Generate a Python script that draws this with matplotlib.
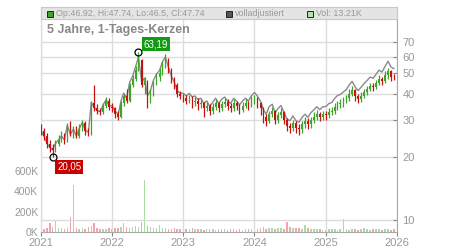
import numpy as np
import pandas as pd
import matplotlib
matplotlib.use("Agg")
import matplotlib.pyplot as plt
import matplotlib.dates as mdates
from matplotlib.patches import Rectangle

plt.rcParams['font.family'] = ['Liberation Sans', 'DejaVu Sans']

# ---- data (half-monthly candles) ----
dates = pd.to_datetime([f"{y}-{m:02d}-{d:02d}" for y in range(2021, 2026)
                        for m in range(1, 13) for d in (1, 16)])

close = [26.5, 25, 23, 22, 21.5, 23, 24, 25, 24, 28, 25.5, 27, 25, 27, 29, 26.5, 26, 36, 34, 33, 32.5, 35, 37, 34.5,
         34, 32, 31, 36, 39, 37, 44, 47, 52, 58, 44, 46, 38, 40, 45, 48, 50, 55, 58, 52, 47, 44, 40, 39,
         38, 37, 38, 36.5, 37, 35.5, 36, 34, 35, 33, 34.5, 36, 34, 35.5, 36.5, 35, 34, 36, 35, 33.5, 35, 36, 35, 37,
         37.5, 36, 34, 31, 29.5, 32, 33, 30, 31.5, 32.5, 30, 28, 27.5, 29, 27.5, 27, 28.5, 29.5, 28.5, 30, 31, 32, 31, 32,
         31.5, 32.5, 33, 34.5, 35.5, 36, 37, 38, 40, 41.5, 39, 37.5, 39, 40.5, 42, 43.5, 43, 45, 47, 46, 49, 51, 48, 47.74]
first_open = 27
high = [28.5, 27.5, 26, 24, 23, 24, 25.5, 26.5, 26, 29, 29.5, 28, 28, 28.5, 30, 29.5, 27.5, 37, 44, 35.5, 34, 36, 38.5, 38,
        36, 34.5, 33, 37, 40, 42, 45, 49, 54, 63.19, 58.5, 48, 46.5, 42, 46, 50, 53, 57, 62, 59, 53, 48, 45, 41,
        40, 39.5, 39.5, 39, 38.5, 38, 37.5, 36.5, 36.5, 35.5, 36, 37.5, 36.5, 37, 38, 37.5, 36, 37.5, 37, 35.5, 36.5, 37.5, 37, 39,
        39.5, 38.5, 36.5, 34.5, 32, 33, 34.5, 33.5, 32.5, 34, 33, 30.5, 29, 30, 29.5, 28.5, 29.5, 31, 30.5, 31, 32.5, 33.5, 32.5, 33,
        33, 34, 34.5, 36, 37, 37.5, 38.5, 39.5, 42, 43.5, 42, 40, 40.5, 42, 43.5, 45, 45, 46.5, 49, 48, 51, 53, 52, 49.5]
low = [25.5, 24, 22, 21, 20.05, 21, 22.5, 23.5, 23, 23.5, 25, 24.5, 24.5, 24.5, 26.5, 25.5, 25, 25.5, 33, 32, 31.5, 32, 34, 33.5,
       32.5, 30.5, 30, 30.5, 35, 36, 36.5, 43, 46, 51, 43, 40, 34, 36, 39, 44, 46, 49, 53, 50, 45, 42, 38.5, 37.5,
       36.5, 35.5, 36, 34, 35, 33.5, 34, 31, 33, 31.5, 32, 33.5, 32.5, 33, 34.5, 33.5, 32.5, 33, 33.5, 32, 32.5, 34, 33.5, 34.5,
       35.5, 34, 31.5, 29, 28, 29, 31, 28.5, 29, 30.5, 28.5, 26.5, 26, 26.5, 26, 25.5, 26, 27.5, 27, 27.5, 29, 30, 29.5, 30,
       30, 30.5, 31.5, 32, 33.5, 34, 34.5, 36, 37, 39, 37, 36, 36.5, 38, 39.5, 41, 41, 42, 44, 44, 45, 47, 46, 46.5]
adjusted = [26.6, 25.1, 23.1, 22.1, 21.6, 23.1, 24.1, 25.1, 24.1, 28.2, 25.6, 27.1, 25.1, 27.2, 29.2, 26.7, 26.2, 36.3, 34.3, 33.3, 32.8, 35.4, 37.4, 34.9,
            35.0, 33.0, 31.9, 37.1, 40.2, 38.1, 45.3, 48.4, 53.6, 59.7, 45.3, 47.4, 39.1, 41.2, 46.4, 49.4, 51.5, 56.7, 59.7, 53.6, 48.4, 45.3, 41.2, 40.2,
            40.1, 39.0, 40.1, 38.5, 39.0, 37.5, 38.0, 35.9, 36.9, 34.8, 36.4, 38.0, 35.9, 37.5, 38.5, 36.9, 35.9, 38.0, 36.9, 35.3, 36.9, 38.0, 36.9, 39.0,
            40.5, 38.9, 36.7, 33.5, 31.9, 34.6, 35.6, 32.4, 34.0, 35.1, 32.4, 30.2, 29.7, 31.3, 29.7, 29.2, 30.8, 31.9, 30.8, 32.4, 33.5, 34.6, 33.5, 34.6,
            34.7, 35.8, 36.3, 38.0, 39.1, 39.6, 40.7, 41.8, 44.0, 45.7, 42.9, 41.3, 42.9, 44.6, 46.2, 47.9, 47.3, 49.5, 51.7, 50.6, 53.9, 57.0, 53.5, 52.5]
volume_k = [35, 30, 40, 90, 45, 120, 40, 35, 30, 40, 150, 460, 40, 30, 35, 30, 45, 60, 90, 35, 30, 25, 30, 35,
            30, 35, 40, 45, 90, 50, 40, 45, 60, 50, 100, 510, 55, 45, 40, 35, 70, 40, 35, 30, 30, 35, 25, 30,
            70, 30, 25, 35, 30, 25, 30, 20, 25, 30, 25, 20, 25, 30, 25, 20, 25, 30, 20, 25, 20, 25, 30, 25,
            25, 30, 35, 45, 30, 40, 35, 30, 40, 35, 30, 100, 45, 40, 40, 35, 30, 70, 35, 30, 25, 30, 25, 20,
            20, 25, 30, 25, 20, 25, 130, 25, 20, 25, 30, 20, 25, 35, 25, 20, 30, 25, 30, 20, 25, 30, 20, 25]

year_ticks = ["2021", "2022", "2023", "2024", "2025", "2026"]
price_ticks = [10, 20, 30, 40, 50, 60, 70]
vol_ticks_k = [0, 200, 400, 600]
hi_label, lo_label = "63,19", "20,05"

# ---- figure ----
W, H = 450, 250
fig = plt.figure(figsize=(W / 100, H / 100), dpi=100)
L, R, T, B = 41, 397, 7, 232
pos = [L / W, 1 - B / H, (R - L) / W, (B - T) / H]

GREEN = '#3ea52a'
RED = '#c81010'
VGREEN = '#a8dca0'
VRED = '#f2a4a8'
GRID = '#dcdcdc'
TXT = '#999999'

close = np.array(close, float)
opn = np.r_[first_open, close[:-1]]
up = close >= opn
xnum = mdates.date2num(dates)
x0 = mdates.date2num(pd.Timestamp("2021-01-01"))
x1 = mdates.date2num(pd.Timestamp("2026-01-01"))

# volume axes (behind)
axv = fig.add_axes(pos)
axv.set_xlim(x0, x1)
axv.set_ylim(0, 2213)
axv.bar(xnum, volume_k, width=8, color=[VGREEN if u else VRED for u in up], linewidth=0, zorder=2)
axv.set_yticks(vol_ticks_k)
axv.set_yticklabels([f"{v}K" for v in vol_ticks_k])
axv.tick_params(axis='y', colors=TXT, labelsize=7.5, length=0, pad=2)
axv.set_xticks([])
for s in axv.spines.values():
    s.set_visible(False)
axv.spines['left'].set_visible(True)
axv.spines['left'].set_color('#aaaaaa')

# price axes
ax = fig.add_axes(pos)
ax.patch.set_alpha(0)
ax.set_yscale('log')
ax.set_xlim(x0, x1)
ax.set_ylim(8.768, 103.3)
year_pos = [mdates.date2num(pd.Timestamp(f"{y}-01-01")) for y in year_ticks]
ax.set_xticks(year_pos)
ax.set_xticklabels(year_ticks)
ax.set_yticks(price_ticks)
ax.set_yticklabels([str(p) for p in price_ticks])
ax.yaxis.set_minor_locator(matplotlib.ticker.NullLocator())
ax.yaxis.tick_right()
ax.tick_params(axis='y', colors='#888888', labelcolor=TXT, labelsize=8, length=3, direction='in', pad=4)
ax.tick_params(axis='x', colors='#888888', labelcolor=TXT, labelsize=8, length=3, pad=1)
ax.grid(True, color=GRID, linewidth=1, zorder=0)
for k, s in ax.spines.items():
    s.set_color('#aaaaaa')
ax.spines['top'].set_visible(False)
ax.spines['left'].set_visible(False)

# adjusted line
ax.plot(xnum, adjusted, color='#8a8a8a', linewidth=1, zorder=3)
# candles
cols = np.where(up, GREEN, RED)
ax.vlines(xnum, low, high, colors=cols, linewidth=0.9, zorder=4)
body_lo = np.minimum(opn, close)
body_hi = np.maximum(opn, close)
ax.bar(xnum, body_hi - body_lo, bottom=body_lo, width=8, color=cols, linewidth=0, zorder=5)

# high / low markers
ih, il = int(np.argmax(high)), int(np.argmin(low))
ax.plot([xnum[ih]], [high[ih]], 'o', mfc='none', mec='black', ms=5, mew=0.9, zorder=6)
ax.plot([xnum[il]], [low[il]], 'o', mfc='none', mec='black', ms=5, mew=0.9, zorder=6)
ax.annotate(hi_label, (xnum[ih], high[ih]), xytext=(12.5, 5.5), textcoords='offset points',
            ha='center', va='center', color='white', fontsize=7,
            bbox=dict(boxstyle='square,pad=0.2', fc='#129a12', ec='none'), zorder=7)
ax.annotate(lo_label, (xnum[il], low[il]), xytext=(12, -7.5), textcoords='offset points',
            ha='center', va='center', color='white', fontsize=7,
            bbox=dict(boxstyle='square,pad=0.2', fc='#c80000', ec='none'), zorder=7)

# header / legend band
def px(xp, yp):
    return xp / W, 1 - yp / H
fig.patches.append(Rectangle(px(L, 19), (R - L) / W, 12 / H, transform=fig.transFigure,
                             facecolor='#e4e4e4', edgecolor='#c8c8c8', linewidth=0.8, zorder=10))
items = [(47, GREEN, "Op:46.92, Hi:47.74, Lo:46.5, Cl:47.74"),
         (226, '#555555', "volladjustiert"),
         (307, '#b4e2ac', "Vol: 13.21K")]
for xs, c, t in items:
    fig.patches.append(Rectangle(px(xs, 16.5), 5.5 / W, 5.5 / H, transform=fig.transFigure,
                                 facecolor=c, edgecolor='#222222', linewidth=0.7, zorder=11))
    fig.text(*px(xs + 9, 13.3), t, color=TXT, fontsize=6.4, va='center', ha='left', zorder=12)

fig.text(*px(47, 29.5), "5 Jahre, 1-Tages-Kerzen", color='#888888', fontsize=9,
         fontweight='bold', va='center', ha='left')

fig.savefig("out.png", dpi=100)
